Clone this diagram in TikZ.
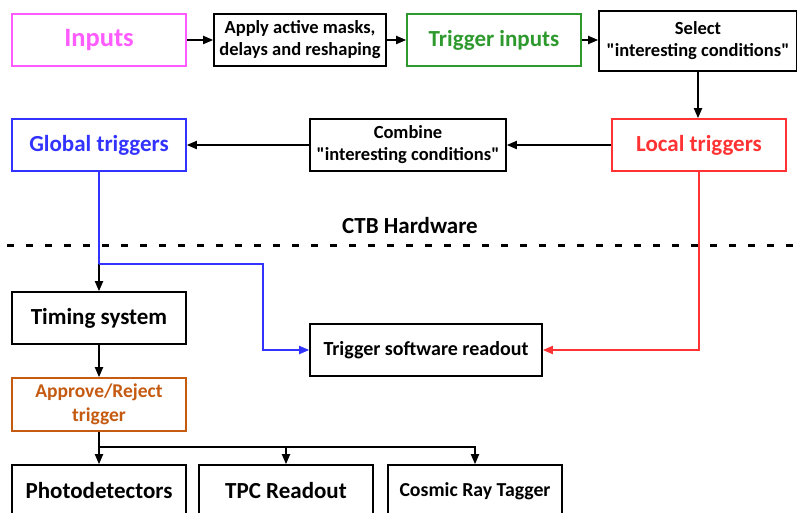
\documentclass[tikz,border=0pt]{standalone}
\usepackage{fontspec}
\setmainfont{Carlito}
\usetikzlibrary{positioning, arrows.meta}

\definecolor{inpink}{HTML}{FF5CFF}
\definecolor{trgreen}{HTML}{2E9A2E}
\definecolor{glblue}{HTML}{3333FF}
\definecolor{lored}{HTML}{FF3333}
\definecolor{aporange}{HTML}{C55A11}

\newcommand{\dq}{\textquotedbl}

\begin{document}
\begin{tikzpicture}[
  x=1pt, y=-1pt,
  box/.style={draw, line width=1.6pt, rectangle, align=center, minimum width=174pt, minimum height=52pt, font=\bfseries\fontsize{23}{26}\selectfont, inner sep=2pt},
  smallbox/.style={box, font=\bfseries\fontsize{18.5}{22}\selectfont},
  arrow/.style={-{Triangle[length=10pt, width=8pt]}, line width=1.8pt}
]
\clip (0,0) rectangle (797,513);
\fill[white] (0,0) rectangle (797,513);

% Nodes
\node[box, draw=inpink, text=inpink, font=\bfseries\fontsize{26.5}{30}\selectfont] (inputs) at (99,40) {Inputs};
\node[smallbox, minimum width=172pt] (masks) at (300,40) {Apply active masks,\\delays and reshaping};
\node[box, draw=trgreen, text=trgreen] (trig) at (494,40) {Trigger inputs};
\node[smallbox, minimum width=198pt, minimum height=60pt] (select) at (698,41) {Select\\\dq interesting conditions\dq};
\node[box, draw=lored, text=lored] (local) at (699,145) {Local triggers};
\node[smallbox, minimum width=196pt] (combine) at (408,145) {Combine\\\dq interesting conditions\dq};
\node[box, draw=glblue, text=glblue] (global) at (99,145) {Global triggers};
\node[font=\bfseries\fontsize{23}{26}\selectfont] (ctb) at (410,226) {CTB Hardware};
\node[smallbox, minimum width=232pt, font=\bfseries\fontsize{20}{24}\selectfont] (readout) at (426,350) {Trigger software readout};
\node[box] (timing) at (99,318) {Timing system};
\node[smallbox, draw=aporange, text=aporange, minimum height=53pt, font=\bfseries\fontsize{19.5}{24}\selectfont] (approve) at (99,404.5) {Approve/Reject\\trigger};
\node[box] (photo) at (99,491) {Photodetectors};
\node[box] (tpc) at (286,491) {TPC Readout};
\node[box, font=\bfseries\fontsize{19.8}{24}\selectfont] (cosmic) at (475,491) {Cosmic Ray Tagger};

\coordinate (split) at (99,264);
\coordinate (bend) at (263,264);
\coordinate (fork) at (99,447);

% Lines
\draw[line width=3.5pt, dash pattern=on 7pt off 12pt] (7,245.5) -- (797,245.5);
\draw[arrow] (inputs) -- (masks);
\draw[arrow] (masks) -- (trig);
\draw[arrow] (trig) -- (trig -| select.west);
\draw[arrow] (select.south) -- (select.south |- local.north);
\draw[arrow] (local) -- (combine);
\draw[arrow] (combine) -- (global);
\draw[glblue, line width=1.8pt] (global.south) -- (split);
\draw[arrow] (split) -- (timing);
\draw[arrow, glblue] (split) -- (bend) |- (readout.west);
\draw[arrow, lored] (local.south) |- (readout.east);
\draw[arrow] (timing) -- (approve);
\draw[arrow] (approve) -- (fork) -| (cosmic);
\draw[arrow] (fork) -- (photo);
\draw[arrow] (tpc.north |- fork) -- (tpc);

\end{tikzpicture}
\end{document}
